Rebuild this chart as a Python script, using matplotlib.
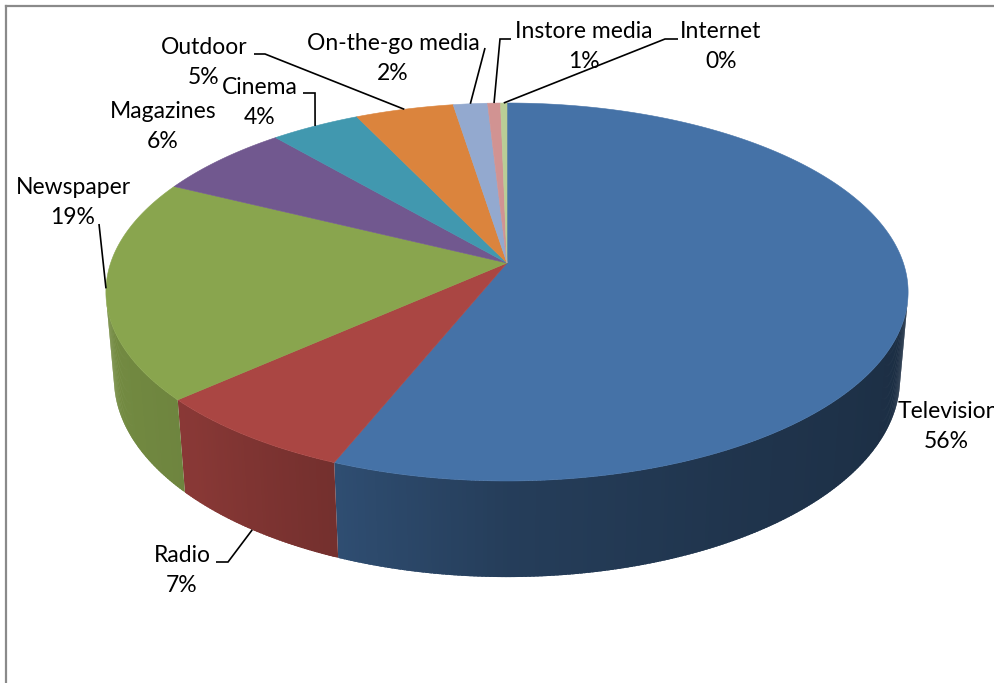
import numpy as np
import matplotlib
matplotlib.use("Agg")
import matplotlib.pyplot as plt
from matplotlib.patches import Polygon

# ---- data ----
categories = ["Television", "Radio", "Newspaper", "Magazines", "Cinema",
              "Outdoor", "On-the-go media", "Instore media", "Internet"]
shares = [56.1, 7.3, 18.9, 6.4, 4.2, 4.6, 1.6, 0.6, 0.3]
colors = ["#4572A7", "#AA4643", "#89A54E", "#71588F", "#4198AF",
          "#DB843D", "#93A9CF", "#D19392", "#B9CD96"]

# ---- 3-D pie geometry (pixel space) ----
W, H = 995, 683
CX, CY = 507.0, 263.0          # projected pie centre (top face)
FOCAL = 2287.0
DIST = 5.77
ELEV = np.radians(27.75)
THICK = 0.25
SE, CE = np.sin(ELEV), np.cos(ELEV)


def proj(phi_deg, h=0.0, r=1.0):
    """Angle measured clockwise from 12 o'clock; h is height (0 = top)."""
    p = np.radians(np.asarray(phi_deg, dtype=float))
    px, pz = r * np.sin(p), r * np.cos(p)
    up = pz * SE + h * CE
    depth = DIST + pz * CE - h * SE
    return CX + FOCAL * px / depth, CY - FOCAL * up / depth


def shade(phi):
    pts = [(90, 0.38), (150, 0.46), (180, 0.54), (202, 0.68),
           (225, 0.80), (270, 0.87)]
    xs, ys = zip(*pts)
    return float(np.interp(phi, xs, ys))


def darker(c, f):
    rgb = np.array(matplotlib.colors.to_rgb(c))
    return tuple(np.clip(rgb * f, 0, 1))


fig = plt.figure(figsize=(W / 100, H / 100), dpi=100)
ax = fig.add_axes([0, 0, 1, 1])
ax.set_xlim(0, W)
ax.set_ylim(H, 0)
ax.axis("off")

total = sum(shares)
bounds = np.concatenate([[0], np.cumsum(shares) / total * 360.0])

# visible outer wall range (faces the camera)
lim = np.degrees(np.arccos(-1.0 / (DIST * CE)))
vis_lo, vis_hi = lim, 360 - lim

# outer walls, drawn as thin overlapping shaded strips
for i, c in enumerate(colors):
    a0, a1 = max(bounds[i], vis_lo), min(bounds[i + 1], vis_hi)
    if a1 <= a0:
        continue
    n = max(2, int((a1 - a0) / 0.5))
    edges = np.linspace(a0, a1, n + 1)
    step = edges[1] - edges[0]
    for k, (s0, s1) in enumerate(zip(edges[:-1], edges[1:])):
        e1 = s1 + 0.8 * step if k < n - 1 else s1
        seg = np.linspace(s0, e1, 3)
        tx, ty = proj(seg, 0.0)
        bx, by = proj(seg[::-1], -THICK)
        fc = darker(c, shade(0.5 * (s0 + s1)))
        ax.add_patch(Polygon(np.column_stack([np.r_[tx, bx], np.r_[ty, by]]),
                             closed=True, facecolor=fc, edgecolor="none",
                             zorder=2))

# top face slices
for i, c in enumerate(colors):
    seg = np.linspace(bounds[i], bounds[i + 1],
                      max(3, int((bounds[i + 1] - bounds[i]) * 2)))
    x, y = proj(seg, 0.0)
    ax.add_patch(Polygon(np.column_stack([np.r_[CX, x], np.r_[CY, y]]),
                         closed=True, facecolor=c, edgecolor=c,
                         linewidth=0.4, zorder=3))

# ---- labels and leader lines ----
# first-line centre of each label, leader elbow, and rim used for the anchor
layout = {
    "Television":      ((948, 411), None, None),
    "Radio":           ((182, 555), (216, 562), "bot"),
    "Newspaper":       ((73, 187), (99, 224), "top"),
    "Magazines":       ((163, 112), None, None),
    "Cinema":          ((260, 88), (303, 93), "top"),
    "Outdoor":         ((204, 47), (254, 54), "top"),
    "On-the-go media": ((393, 43), (485, 48), "top"),
    "Instore media":   ((584, 31), (511, 39), "top"),
    "Internet":        ((721, 31), (678, 39), "top"),
}
# short horizontal hook next to the text, towards the anchor
hooks = {"Radio": 12, "Cinema": 12, "Outdoor": 11, "Instore media": -11,
         "Internet": -13}

FONT = dict(family=["Lato", "DejaVu Sans"], fontsize=16.5, color="black")
PITCH = 30

for i, name in enumerate(categories):
    (tx, ty), elbow, where = layout[name]
    pct = f"{round(shares[i] / total * 100):.0f}%"
    ax.text(tx, ty, name, ha="center", va="center", zorder=5, **FONT)
    ax.text(tx - 2 if name == "Television" else tx, ty + PITCH, pct,
            ha="center", va="center", zorder=5, **FONT)
    if elbow is None:
        continue
    mid = 0.5 * (bounds[i] + bounds[i + 1])
    axp, ayp = proj(mid, -THICK if where == "bot" else 0.0)
    ex, ey = elbow
    hk = hooks.get(name, 0)
    xs = [ex, ex + hk, float(axp)]
    ys = [ey, ey, float(ayp)]
    ax.plot(xs, ys, color="black", linewidth=1.2, zorder=4,
            solid_capstyle="butt", solid_joinstyle="miter")

# chart-area border (top and left edges visible)
ax.plot([6, 6], [H + 5, 6], color="#8a8a8a", linewidth=1.6, zorder=6,
        solid_capstyle="projecting")
ax.plot([6, W + 5], [6, 6], color="#8a8a8a", linewidth=1.6, zorder=6,
        solid_capstyle="projecting")

fig.savefig("out.png", dpi=100, facecolor="white")
